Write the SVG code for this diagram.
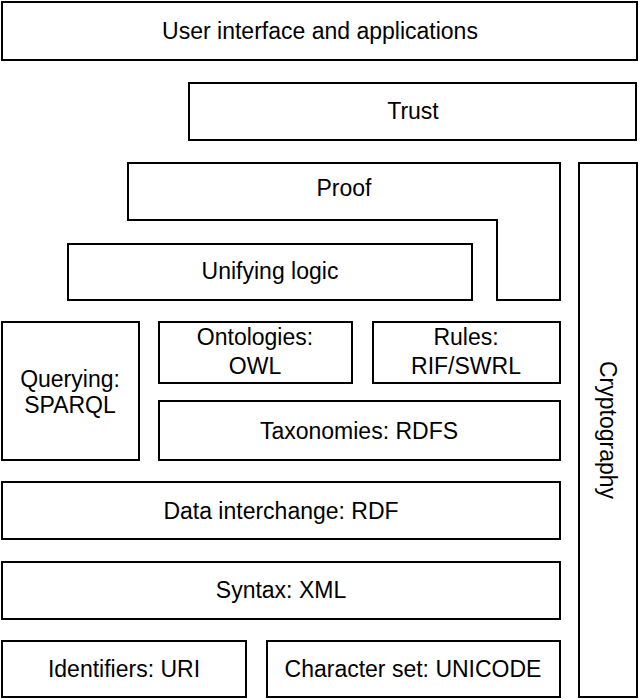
<svg xmlns="http://www.w3.org/2000/svg" width="640" height="699" viewBox="0 0 640 699">
<style>
.b{fill:#fff;stroke:#000;stroke-width:2}
text{font-family:"Liberation Sans",Arial,sans-serif;font-size:23px;fill:#000;text-anchor:middle}
</style>
<rect width="640" height="699" fill="#fff"/>
<g id="ui"><rect class="b" x="2" y="2" width="635" height="58"/><text x="320" y="39">User interface and applications</text></g>
<g id="trust"><rect class="b" x="189" y="83" width="447" height="57"/><text x="413" y="119">Trust</text></g>
<g id="proof"><polygon class="b" points="128,163 560,163 560,300 497,300 497,220 128,220"/><text x="344" y="196">Proof</text></g>
<g id="logic"><rect class="b" x="68" y="244" width="404" height="56"/><text x="270" y="279">Unifying logic</text></g>
<g id="query"><rect class="b" x="2" y="322" width="137" height="138"/><text x="70" y="387">Querying:</text><text x="70" y="413">SPARQL</text></g>
<g id="onto"><rect class="b" x="159" y="322" width="193" height="61"/><text x="255" y="345">Ontologies:</text><text x="255" y="374">OWL</text></g>
<g id="rules"><rect class="b" x="373" y="322" width="187" height="61"/><text x="466" y="345">Rules:</text><text x="466" y="374">RIF/SWRL</text></g>
<g id="tax"><rect class="b" x="159" y="401" width="401" height="59"/><text x="359" y="439">Taxonomies: RDFS</text></g>
<g id="rdf"><rect class="b" x="2" y="482" width="558" height="57"/><text x="281" y="519">Data interchange: RDF</text></g>
<g id="xml"><rect class="b" x="2" y="562" width="558" height="57"/><text x="281" y="598">Syntax: XML</text></g>
<g id="uri"><rect class="b" x="2" y="641" width="244" height="56"/><text x="124" y="677">Identifiers: URI</text></g>
<g id="unicode"><rect class="b" x="267" y="641" width="293" height="56"/><text x="413" y="677">Character set: UNICODE</text></g>
<g id="crypto"><rect class="b" x="579" y="163" width="58" height="534"/><text transform="translate(600,430) rotate(90)">Cryptography</text></g>
<g id="connectors"/>
</svg>
